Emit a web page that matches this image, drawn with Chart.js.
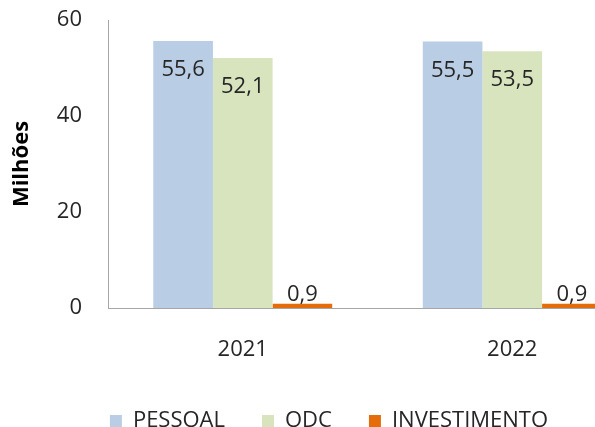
<!DOCTYPE html>
<html>
<head>
<meta charset="utf-8">
<script src="https://cdn.jsdelivr.net/npm/chart.js@4"></script>
<style>
  html, body { margin: 0; padding: 0; overflow: hidden; background: #fff; }
  canvas { display: block; }
</style>
</head>
<body>
<canvas id="barChart" width="658" height="442"></canvas>
<script>
// Dados
const anos = ['2021', '2022'];
const pessoal = [55.6, 55.5];
const odc = [52.1, 53.5];
const investimento = [0.9, 0.9];
const ticksY = [0, 20, 40, 60];

const fonte = '"Open Sans", sans-serif';

// rótulos dos valores (vírgula decimal)
const rotulos = {
    id: 'rotulos',
    afterDatasetsDraw(chart) {
        const ctx = chart.ctx;
        ctx.save();
        ctx.font = '22px ' + fonte;
        ctx.fillStyle = '#262626';
        ctx.textAlign = 'center';
        ctx.textBaseline = 'middle';
        chart.data.datasets.forEach((ds, i) => {
            chart.getDatasetMeta(i).data.forEach((bar, j) => {
                const txt = ds.data[j].toFixed(1).replace('.', ',');
                const y = i < 2 ? bar.y + 29 : bar.y - 9;
                ctx.fillText(txt, bar.x, y);
            });
        });
        ctx.restore();
    }
};

const ctx = document.getElementById('barChart').getContext('2d');
const barChart = new Chart(ctx, {
    type: 'bar',
    data: {
        labels: anos,
        datasets: [
            { label: 'PESSOAL', data: pessoal, backgroundColor: '#b9cde5' },
            { label: 'ODC', data: odc, backgroundColor: '#d7e4bd' },
            { label: 'INVESTIMENTO', data: investimento, backgroundColor: '#e46c0a' }
        ]
    },
    options: {
        responsive: false,
        animation: false,
        layout: { padding: { left: 11, right: 11, top: 20, bottom: 0 } },
        datasets: {
            bar: { categoryPercentage: 0.664, barPercentage: 1 }
        },
        scales: {
            x: {
                grid: { display: false, drawTicks: false },
                border: { display: true, color: '#a6a6a6', width: 1 },
                ticks: { color: '#262626', font: { family: fonte, size: 22 }, padding: 29 },
                afterFit(scale) { scale.height = 65; }
            },
            y: {
                min: 0,
                max: 60,
                afterBuildTicks(scale) { scale.ticks = ticksY.map(v => ({ value: v })); },
                grid: { display: false, drawTicks: true, tickLength: 26 },
                border: { display: true, color: '#a6a6a6', width: 1 },
                ticks: { color: '#262626', font: { family: fonte, size: 22 }, padding: 0 },
                title: {
                    display: true,
                    text: 'Milhões',
                    color: '#000',
                    font: { family: fonte, size: 22, weight: 'bold', lineHeight: 1 },
                    padding: 0
                },
                afterFit(scale) { scale.width = 97; }
            }
        },
        plugins: {
            legend: {
                position: 'bottom',
                labels: {
                    color: '#262626',
                    font: { family: fonte, size: 22 },
                    boxWidth: 12,
                    boxHeight: 12,
                    padding: 37
                }
            },
            tooltip: { enabled: false }
        }
    },
    plugins: [rotulos]
});
</script>
</body>
</html>
